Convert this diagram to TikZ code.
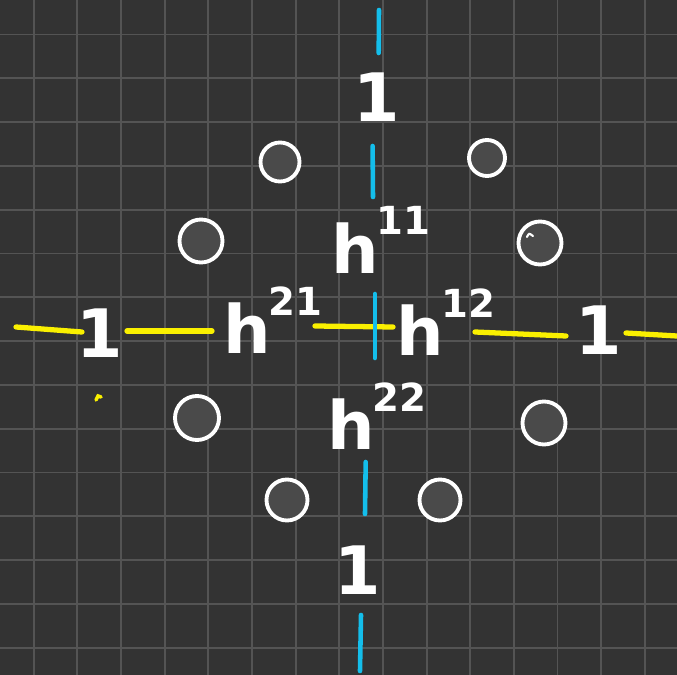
\documentclass[tikz,border=0pt]{standalone}
\usepackage{fontspec}
\setmainfont{DejaVu Sans}
\usepackage{tikz}
\usetikzlibrary{positioning}
\definecolor{fond}{RGB}{51,51,51}
\definecolor{grille}{RGB}{84,84,84}
\definecolor{jaune}{RGB}{250,240,0}
\definecolor{azur}{RGB}{20,190,235}
\definecolor{disque}{RGB}{74,74,74}
\newcommand{\hsup}[1]{h\kern-0.5pt\raisebox{11pt}{\fontsize{11}{12}\selectfont #1}}

\begin{document}
\begin{tikzpicture}[x=0.1mm,y=-0.1mm,
  lbl/.style={text=white,inner sep=0pt,font=\fontsize{19}{22}\selectfont\bfseries},
  ring/.style={circle,draw=white,line width=1.1pt,fill=disque,inner sep=0pt},
  yel/.style={jaune,line width=1.5pt,line cap=round},
  blu/.style={azur,line width=1.3pt,line cap=round}]
  %% fond et grille
  \fill[fond] (0,0) rectangle (677,675);
  \useasboundingbox (0,0) rectangle (677,675);
  \foreach \k in {0,...,14}{
    \draw[grille,line width=0.55pt] ({33.7+43.65*\k},0) -- ({33.7+43.65*\k},675);
    \draw[grille,line width=0.55pt] (0,{34.5+43.8*\k}) -- (677,{34.5+43.8*\k});
  }

  %% cercles vides
  \foreach \nm/\x/\y/\d in {hg/280/162/3.9, hd/487/158/3.6, mg/201/241/4.3, md/540/243/4.3,
                            bg/197/418/4.4, bd/544/423/4.3, sg/287/500/4.1, sd/440/500/4.1}
    \node[ring,minimum size=\d mm] (\nm) at (\x,\y) {};
  \draw[white,line width=0.6pt,line cap=round] (527,237) .. controls (529,233) .. (533,236);

  %% axe horizontal (jaune)
  \draw[yel] (16,327) -- (82,332);
  \draw[yel] (127,331) -- (212,331);
  \draw[yel] (315,326) -- (393,327);
  \draw[yel] (475,332) -- (566,336);
  \draw[yel] (626,333) -- (677,336);
  \draw[jaune,line width=1pt,line cap=round] (96,400) -- (98,396) -- (101,397);

  %% axe vertical (bleu)
  \draw[blu] (379,10) -- (378.7,53);
  \draw[blu] (372.6,146) -- (373,197);
  \draw[blu] (374.8,294) -- (374.8,358);
  \draw[blu] (365.7,462) -- (365,514);
  \draw[blu] (361,615) -- (360,671);

  %% nombres de Hodge
  \node[lbl] (haut) at (377,97) {1};
  \node[lbl] (h11) at (381,240) {\hsup{11}};
  \node[lbl] (gauche) at (100,333) {1};
  \node[lbl] (h21) at (273,320) {\hsup{21}};
  \node[lbl] (h12) at (446,322) {\hsup{12}};
  \node[lbl] (droite) at (599,330) {1};
  \node[lbl] (h22) at (377,416) {\hsup{22}};
  \node[lbl] (bas) at (358,570) {1};
\end{tikzpicture}
\end{document}
